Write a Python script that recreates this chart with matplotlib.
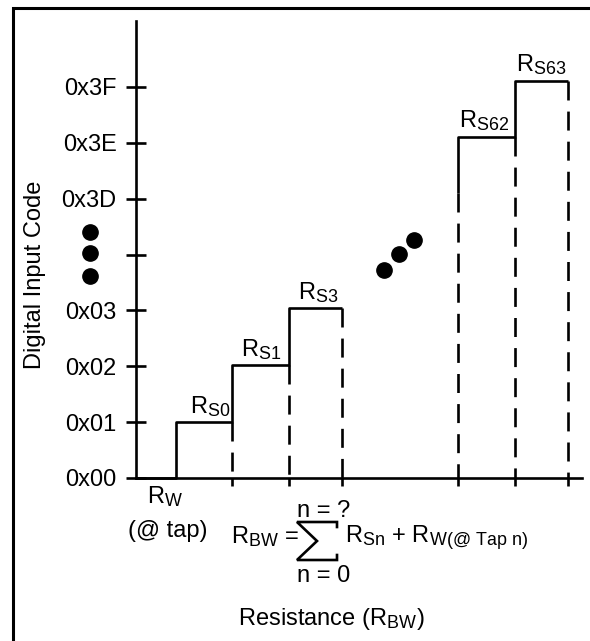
import matplotlib
matplotlib.use('Agg')
import matplotlib.pyplot as plt
from matplotlib.lines import Line2D

try:
    import matplotlib._mathtext as _mt
    _mt.SHRINK_FACTOR = 0.76
except Exception:
    pass

plt.rcParams['font.family'] = ['Liberation Sans', 'DejaVu Sans']
plt.rcParams['mathtext.fontset'] = 'custom'
plt.rcParams['mathtext.rm'] = 'Liberation Sans'
plt.rcParams['mathtext.it'] = 'Liberation Sans:italic'
plt.rcParams['mathtext.bf'] = 'Liberation Sans:bold'

# ---------------- data ----------------
y_tick_pos = [0, 1, 2, 3, 4, 5, 6, 7]
y_tick_labels = ['0x00', '0x01', '0x02', '0x03', '', '0x3D', '0x3E', '0x3F']

low_edges = [0.7, 1.7, 2.7, 3.65]      # R_W, then step boundaries (lower codes)
low_levels = [1.0, 2.02, 3.04]          # code levels of lower steps
high_edges = [5.7, 6.7, 7.65]           # step boundaries (upper codes)
high_levels = [6.11, 7.11]              # code levels of upper steps
high_start = 5.10                       # where the solid upper riser begins

low_labels = [r'$\mathrm{R_{S0}}$', r'$\mathrm{R_{S1}}$', r'$\mathrm{R_{S3}}$']
low_label_x = [1.31, 2.21, 3.22]
high_labels = [r'$\mathrm{R_{S62}}$', r'$\mathrm{R_{S63}}$']
high_label_x = [6.16, 7.18]

dots_mid_x = [4.39, 4.65, 4.92]
dots_mid_y = [3.72, 4.01, 4.26]
dots_left_x = [-0.81, -0.81, -0.81]
dots_left_y = [4.41, 4.03, 3.62]

# ---------------- figure ----------------
W, H = 590, 641
fig = plt.figure(figsize=(W / 100, H / 100), dpi=100)

def fx(px):
    return px / W

def fy(py):
    return 1 - py / H

ax_left, ax_bottom, ax_right, ax_top = 136, 478, 590, 21
ax = fig.add_axes([fx(ax_left), fy(ax_bottom), (ax_right - ax_left) / W,
                   (ax_bottom - ax_top) / H])
ax.set_xlim(0, (ax_right - ax_left) / 56.5)
ax.set_ylim(0, (ax_bottom - ax_top) / 55.86)
ax.patch.set_alpha(0)

LW = 1.9
FS = 17
for s in ['top', 'right']:
    ax.spines[s].set_visible(False)
ax.spines['left'].set_linewidth(LW)
ax.spines['bottom'].set_linewidth(LW)
ax.spines['bottom'].set_bounds(0, 7.9)

ax.set_yticks(y_tick_pos)
ax.set_yticklabels(y_tick_labels, fontsize=FS)
ax.tick_params(axis='y', direction='inout', length=14, width=LW, pad=7)
ax.set_xticks(low_edges[1:] + high_edges)
ax.set_xticklabels([])
ax.tick_params(axis='x', direction='out', length=6, width=LW)

# lower staircase
sx = [0, low_edges[0]]
sy = [0, 0]
for i, lev in enumerate(low_levels):
    sx += [low_edges[i], low_edges[i + 1]]
    sy += [lev, lev]
ax.plot(sx, sy, color='black', lw=LW, solid_capstyle='butt', clip_on=False)

# upper staircase
hx = [high_edges[0]]
hy = [high_start]
for i, lev in enumerate(high_levels):
    hx += [high_edges[i], high_edges[i + 1]]
    hy += [lev, lev]
ax.plot(hx, hy, color='black', lw=LW, solid_capstyle='butt', clip_on=False)

# dashed drop lines
dash = (7.2, 4.2)
for xe, top in zip(low_edges[1:], low_levels):
    ax.plot([xe, xe], [top, 0], color='black', lw=LW, dashes=dash,
            dash_capstyle='butt')
for xe, top in zip(high_edges, [high_start] + high_levels):
    ax.plot([xe, xe], [top, 0], color='black', lw=LW, dashes=dash,
            dash_capstyle='butt')

# step labels
for xl, lab, lev in zip(low_label_x, low_labels, low_levels):
    ax.text(xl, lev + 0.06, lab, ha='center', va='bottom', fontsize=FS)
for xl, lab, lev in zip(high_label_x, high_labels, high_levels):
    ax.text(xl, lev + 0.06, lab, ha='center', va='bottom', fontsize=FS)

# ellipsis dots
ax.plot(dots_mid_x, dots_mid_y, 'o', color='black', ms=11, clip_on=False)
ax.plot(dots_left_x, dots_left_y, 'o', color='black', ms=11, clip_on=False)

# ---------------- text outside axes ----------------
fig.text(fx(35), fy(275), 'Digital Input Code', rotation=90, ha='center',
         va='center', fontsize=FS)
fig.text(fx(165), fy(503), r'$\mathrm{R_W}$', ha='center', va='baseline',
         fontsize=FS)
fig.text(fx(168), fy(537), '(@ tap)', ha='center', va='baseline', fontsize=FS)
fig.text(fx(231), fy(543), r'$\mathrm{R_{BW}}$ =', ha='left', va='baseline',
         fontsize=FS)
fig.text(fx(297), fy(517), 'n = ?', ha='left', va='baseline', fontsize=FS)
fig.text(fx(297), fy(582), 'n = 0', ha='left', va='baseline', fontsize=FS)
fig.text(fx(345), fy(543),
         r'$\mathrm{R_{Sn}}$ + $\mathrm{R_{W(@\ Tap\ n)}}$',
         ha='left', va='baseline', fontsize=FS)
fig.text(fx(331), fy(625), r'Resistance ($\mathrm{R_{BW}}$)', ha='center',
         va='baseline', fontsize=FS)

# summation sign drawn with lines
sig_px = [(337, 527), (337, 522), (297, 522), (317, 541), (297, 560),
          (337, 560), (337, 555)]
fig.add_artist(Line2D([fx(p[0]) for p in sig_px], [fy(p[1]) for p in sig_px],
                      transform=fig.transFigure, color='black', lw=LW,
                      solid_joinstyle='miter'))

# frame (top and left edges)
fig.add_artist(Line2D([fx(13), fx(13), 1.0], [0.0, fy(8), fy(8)],
                      transform=fig.transFigure, color='black', lw=2.2,
                      solid_joinstyle='miter'))

fig.savefig('out.png', dpi=100)
